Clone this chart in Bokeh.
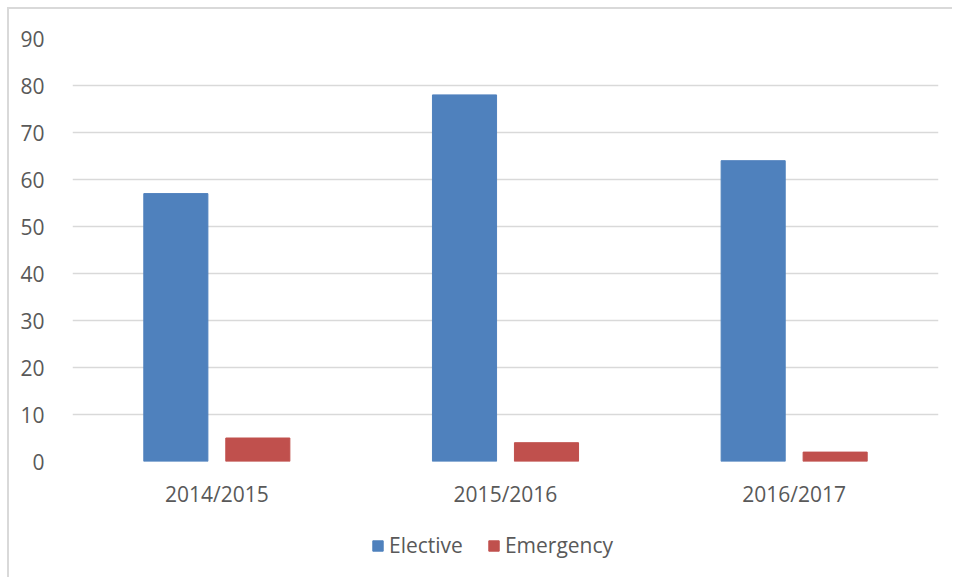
from bokeh.plotting import figure
from bokeh.models import ColumnDataSource, FactorRange, Range1d, FixedTicker, Legend, LegendItem, Spacer
from bokeh.layouts import column, row
from bokeh.transform import dodge
from bokeh.embed import file_html
from bokeh.resources import INLINE

years = ["2014/2015", "2015/2016", "2016/2017"]
elective = [57, 78, 64]
emergency = [5, 4, 2]
y_ticks = [0, 10, 20, 30, 40, 50, 60, 70, 80, 90]
series_names = ["Elective", "Emergency"]
series_colors = ["#4F81BD", "#C0504D"]

FONT = "Open Sans"
TXT = "#595959"
GRID = "#d9d9d9"

src = ColumnDataSource(data=dict(years=years, elective=elective, emergency=emergency))

p = figure(
    x_range=FactorRange(factors=years),
    y_range=Range1d(0, 90),
    width=945, height=510,
    output_backend="svg", toolbar_location=None,
    min_border_left=63, min_border_right=16, min_border_top=29, min_border_bottom=58,
)
p.styles = {"border-left": "2px solid #d9d9d9", "border-top": "2px solid #d9d9d9"}
p.outline_line_color = None

p.vbar(x=dodge("years", -0.142, range=p.x_range), top="elective", width=0.222,
       source=src, fill_color=series_colors[0], line_color=series_colors[0])
p.vbar(x=dodge("years", 0.142, range=p.x_range), top="emergency", width=0.222,
       source=src, fill_color=series_colors[1], line_color=series_colors[1])

p.xgrid.grid_line_color = None
p.ygrid.grid_line_color = GRID
p.ygrid.grid_line_width = 1.5
p.yaxis.ticker = FixedTicker(ticks=y_ticks)

for ax in (p.xaxis[0], p.yaxis[0]):
    ax.axis_line_color = None
    ax.major_tick_line_color = None
    ax.minor_tick_line_color = None
    ax.major_label_text_font = FONT
    ax.major_label_text_font_size = "21px"
    ax.major_label_text_color = TXT
p.yaxis.major_label_standoff = 22
p.xaxis.major_label_standoff = 12

# legend strip below the chart (swatch renderers sit outside the visible range)
lg = figure(width=945, height=60, output_backend="svg", toolbar_location=None,
            x_range=Range1d(0, 1), y_range=Range1d(0, 1),
            min_border_left=63, min_border_right=16, min_border_top=0, min_border_bottom=0)
lg.styles = {"border-left": "2px solid #d9d9d9"}
lg.axis.visible = False
lg.grid.visible = False
lg.outline_line_color = None
items = []
for name, col in zip(series_names, series_colors):
    r = lg.quad(left=[-3], right=[-2], top=[-2], bottom=[-3], fill_color=col, line_color=col)
    items.append(LegendItem(label=name, renderers=[r]))

legend = Legend(
    items=items,
    orientation="horizontal",
    location=(299, 18),
    glyph_width=13, glyph_height=13,
    label_standoff=5, spacing=24, padding=0, margin=0,
    label_text_font=FONT, label_text_font_size="21px", label_text_color=TXT,
    border_line_color=None, background_fill_alpha=0,
)
lg.add_layout(legend, "center")

layout = column(Spacer(height=7), row(Spacer(width=7), column(p, lg, spacing=0)), spacing=0)
open("out.html", "w").write(file_html(layout, INLINE))
